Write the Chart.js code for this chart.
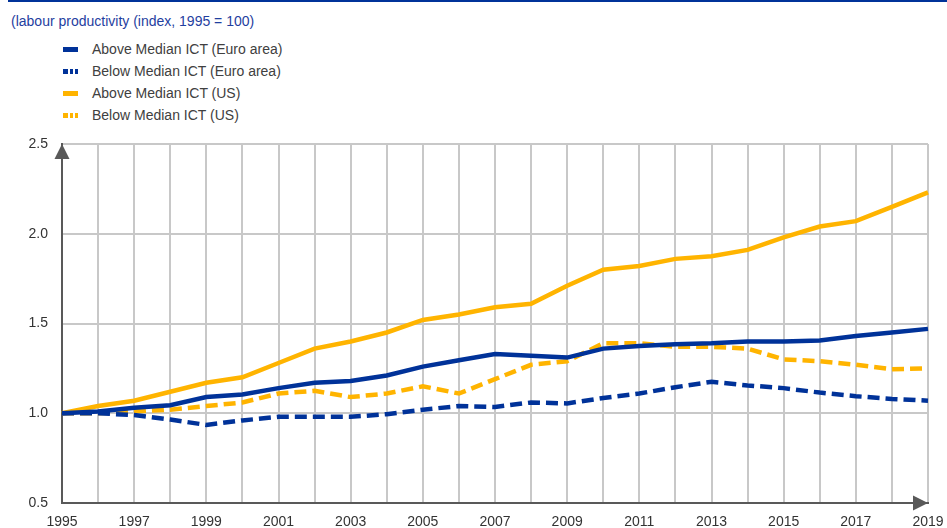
<!DOCTYPE html>
<html>
<head>
<meta charset="utf-8">
<script src="https://cdn.jsdelivr.net/npm/chart.js@4.4.1/dist/chart.umd.min.js"></script>
<style>
  body { margin: 0; background: #fff; font-family: Arial, "Liberation Sans", sans-serif; }
  #wrap { position: relative; width: 947px; height: 528px; }
  #topline { position: absolute; left: 8px; right: 0; top: 0; height: 2px; background: #003299; }
  #subtitle { position: absolute; left: 11px; top: 13px; font-size: 14px; color: #1f40a0; }
  #legend { position: absolute; left: 63px; top: 38px; font-size: 14px; color: #404040; }
  .item { height: 22px; line-height: 22px; display: flex; align-items: center; }
  .mark { width: 15px; height: 5px; margin-right: 14px; }
  canvas { position: absolute; left: 0; top: 0; }
</style>
</head>
<body>
<div id="wrap">
  <div id="topline"></div>
  <div id="subtitle">(labour productivity (index, 1995 = 100)</div>
  <div id="legend"></div>
  <canvas id="chart" width="947" height="528"></canvas>
</div>
<script>
// data
var years = ['1995','1996','1997','1998','1999','2000','2001','2002','2003','2004','2005','2006',
             '2007','2008','2009','2010','2011','2012','2013','2014','2015','2016','2017','2018','2019'];
var xTickLabels = ['1995','1997','1999','2001','2003','2005','2007','2009','2011','2013','2015','2017','2019'];
var yTickLabels = ['0.5','1.0','1.5','2.0','2.5'];

var aboveEuro = [1.00,1.01,1.03,1.045,1.09,1.105,1.14,1.17,1.18,1.21,1.26,1.295,1.33,1.32,1.31,1.36,1.375,1.385,1.39,1.40,1.40,1.405,1.43,1.45,1.47];
var belowEuro = [1.00,1.00,0.99,0.965,0.935,0.96,0.98,0.98,0.98,0.995,1.02,1.04,1.035,1.06,1.055,1.085,1.11,1.145,1.175,1.155,1.14,1.115,1.095,1.08,1.07];
var aboveUS = [1.00,1.04,1.07,1.12,1.17,1.20,1.28,1.36,1.40,1.45,1.52,1.55,1.59,1.61,1.71,1.80,1.82,1.86,1.875,1.91,1.98,2.04,2.07,2.15,2.23];
var belowUS = [1.00,1.00,1.01,1.02,1.04,1.06,1.11,1.125,1.09,1.11,1.15,1.11,1.19,1.27,1.29,1.39,1.39,1.37,1.37,1.36,1.30,1.29,1.27,1.245,1.25];

var seriesNames = ['Above Median ICT (Euro area)', 'Below Median ICT (Euro area)', 'Above Median ICT (US)', 'Below Median ICT (US)'];

var blue = '#003299';
var yellow = '#ffb400';
var axisGrey = '#595959';

function makeSet(name, data, color, dashed) {
    return {
        label: name,
        data: data,
        borderColor: color,
        backgroundColor: color,
        borderWidth: 4.5,
        borderDash: dashed ? [12, 6] : [],
        pointRadius: 0,
        tension: 0,
        fill: false
    };
}

// legend built by hand so it stacks like the original
var legendEl = document.getElementById('legend');
[[blue, false], [blue, true], [yellow, false], [yellow, true]].forEach(function (s, i) {
    var c = s[0];
    var bg = s[1] ? 'linear-gradient(to right,' + c + ' 0 5px,#fff 5px 7px,' + c + ' 7px 10px,#fff 10px 12px,' + c + ' 12px 15px)' : c;
    legendEl.innerHTML += '<div class="item"><span class="mark" style="background:' + bg + '"></span>' + seriesNames[i] + '</div>';
});

// arrows at the end of both axes
var arrowPlugin = {
    id: 'arrows',
    afterDraw: function (chart) {
        var a = chart.chartArea, ctx = chart.ctx;
        ctx.save();
        ctx.fillStyle = axisGrey;
        ctx.beginPath();
        ctx.moveTo(a.left, a.top);
        ctx.lineTo(a.left - 7.5, a.top + 15);
        ctx.lineTo(a.left + 7.5, a.top + 15);
        ctx.closePath();
        ctx.fill();
        ctx.beginPath();
        ctx.moveTo(a.right, a.bottom);
        ctx.lineTo(a.right - 15, a.bottom - 7.5);
        ctx.lineTo(a.right - 15, a.bottom + 7.5);
        ctx.closePath();
        ctx.fill();
        ctx.restore();
    }
};

var tickFont = { family: 'Arial, "Liberation Sans", sans-serif', size: 14 };

new Chart(document.getElementById('chart'), {
    type: 'line',
    data: {
        labels: years,
        datasets: [
            makeSet(seriesNames[0], aboveEuro, blue, false),
            makeSet(seriesNames[1], belowEuro, blue, true),
            makeSet(seriesNames[2], aboveUS, yellow, false),
            makeSet(seriesNames[3], belowUS, yellow, true)
        ]
    },
    options: {
        responsive: false,
        animation: false,
        layout: { padding: { top: 144, right: 19, left: 0, bottom: 0 } },
        plugins: { legend: { display: false }, tooltip: { enabled: false } },
        scales: {
            x: {
                grid: { color: '#c8c8c8', lineWidth: 2, drawTicks: false },
                border: { color: axisGrey, width: 2 },
                ticks: {
                    autoSkip: false, maxRotation: 0, padding: 11, color: '#333', font: tickFont,
                    callback: function (v) {
                        var lab = years[v];
                        return xTickLabels.indexOf(lab) >= 0 ? lab : '';
                    }
                },
                afterFit: function (s) { s.height = 25; s.paddingRight = 0; s.paddingLeft = 0; }
            },
            y: {
                min: 0.5, max: 2.5,
                grid: { color: '#c8c8c8', lineWidth: 2, drawTicks: false },
                border: { color: axisGrey, width: 2 },
                ticks: {
                    stepSize: 0.5, padding: 14, color: '#333', font: tickFont,
                    callback: function (v) {
                        var lab = v.toFixed(1);
                        return yTickLabels.indexOf(lab) >= 0 ? lab : '';
                    }
                },
                afterFit: function (s) { s.width = 62; s.paddingTop = 0; s.paddingBottom = 0; }
            }
        }
    },
    plugins: [arrowPlugin]
});
</script>
</body>
</html>
